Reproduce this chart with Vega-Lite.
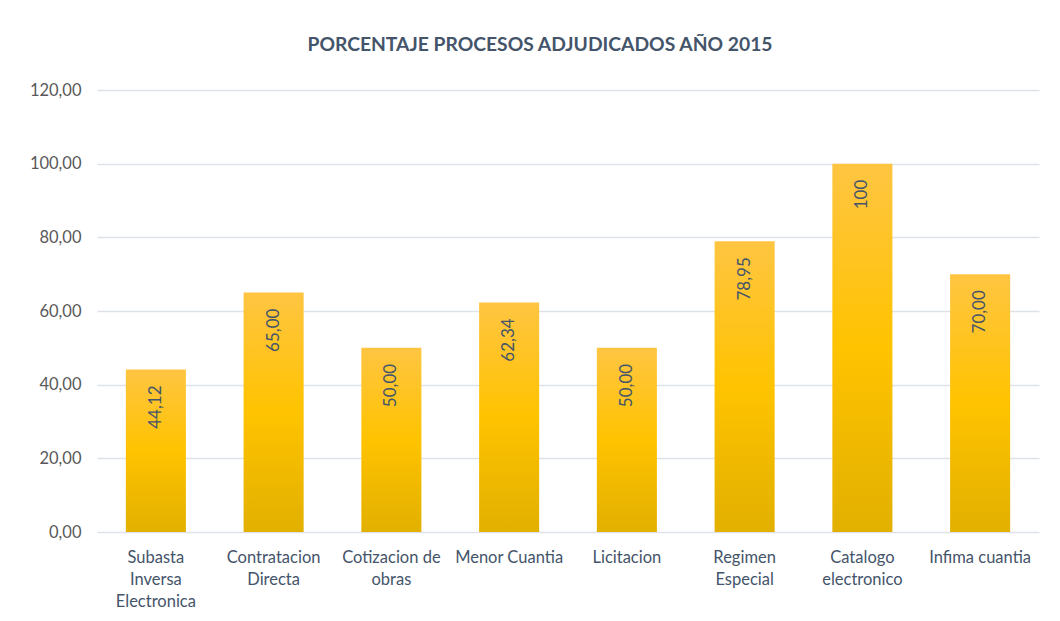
{
  "$schema": "https://vega.github.io/schema/vega-lite/v6.json",
  "autosize": {"type": "none"},
  "width": 942,
  "height": 442,
  "padding": {"left": 97, "top": 90, "right": 21, "bottom": 89},
  "background": "white",
  "title": {
    "text": "PORCENTAJE PROCESOS ADJUDICADOS AÑO 2015",
    "font": "Lato",
    "fontSize": 19.3,
    "fontWeight": "bold",
    "color": "#44546A",
    "anchor": "middle",
    "dx": -28,
    "offset": 27
  },
  "data": {
    "values": [
      {"categoria": "Subasta Inversa Electronica", "porcentaje": 44.12, "etiqueta": "44,12"},
      {"categoria": "Contratacion Directa", "porcentaje": 65.0, "etiqueta": "65,00"},
      {"categoria": "Cotizacion de obras", "porcentaje": 50.0, "etiqueta": "50,00"},
      {"categoria": "Menor Cuantia", "porcentaje": 62.34, "etiqueta": "62,34"},
      {"categoria": "Licitacion", "porcentaje": 50.0, "etiqueta": "50,00"},
      {"categoria": "Regimen Especial", "porcentaje": 78.95, "etiqueta": "78,95"},
      {"categoria": "Catalogo electronico", "porcentaje": 100, "etiqueta": "100"},
      {"categoria": "Infima cuantia", "porcentaje": 70.0, "etiqueta": "70,00"}
    ]
  },
  "encoding": {
    "x": {
      "field": "categoria",
      "type": "nominal",
      "sort": null,
      "scale": {"paddingInner": 0.49, "paddingOuter": 0.245},
      "axis": {
        "title": null,
        "labelAngle": 0,
        "labelFont": "Lato",
        "labelFontSize": 16.5,
        "labelColor": "#44546A",
        "labelPadding": 17,
        "labelLineHeight": 22,
        "labelBaseline": "top",
        "ticks": false,
        "domain": false,
        "grid": false,
        "labelExpr": "({'Subasta Inversa Electronica': ['Subasta','Inversa','Electronica'], 'Contratacion Directa': ['Contratacion','Directa'], 'Cotizacion de obras': ['Cotizacion de','obras'], 'Menor Cuantia': 'Menor Cuantia', 'Licitacion': 'Licitacion', 'Regimen Especial': ['Regimen','Especial'], 'Catalogo electronico': ['Catalogo','electronico'], 'Infima cuantia': 'Infima cuantia'})[datum.label]"
      }
    },
    "y": {
      "field": "porcentaje",
      "type": "quantitative",
      "scale": {"domain": [0, 120]},
      "axis": {
        "title": null,
        "values": [0, 20, 40, 60, 80, 100, 120],
        "labelExpr": "replace(format(datum.value, '.2f'), '.', ',')",
        "labelFont": "Lato",
        "labelFontSize": 16.5,
        "labelColor": "#595959",
        "labelPadding": 16,
        "ticks": false,
        "domain": false,
        "grid": true,
        "gridColor": "#DDE1E8",
        "gridWidth": 1.6
      }
    }
  },
  "layer": [
    {
      "mark": {
        "type": "bar",
        "color": {
          "gradient": "linear",
          "x1": 0, "y1": 0, "x2": 0, "y2": 1,
          "stops": [
            {"offset": 0, "color": "#FFC542"},
            {"offset": 0.5, "color": "#FFC300"},
            {"offset": 1, "color": "#E2B000"}
          ]
        }
      }
    },
    {
      "mark": {
        "type": "text",
        "angle": 270,
        "align": "right",
        "baseline": "middle",
        "dx": -16,
        "font": "Lato",
        "fontSize": 17,
        "color": "#44546A"
      },
      "encoding": {"text": {"field": "etiqueta"}}
    }
  ],
  "config": {"view": {"stroke": null}}
}
